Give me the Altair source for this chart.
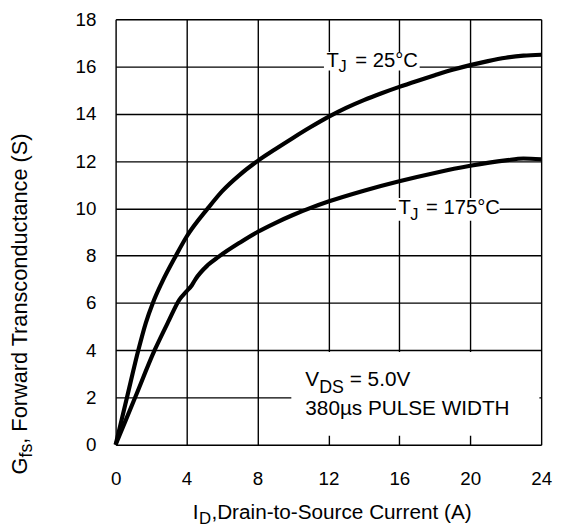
import altair as alt
import pandas as pd

# ---- data ----
id_25 = [0, 0.64, 1.28, 1.7, 2.1, 2.6, 3.4, 4.0, 5.2, 6.0, 7.0, 8.0, 9.0, 10.0, 11.0, 12.0, 13.0, 14.0,
         15.0, 16.0, 17.0, 18.0, 19.0, 20.0, 21.0, 22.0, 23.0, 24.0]
gfs_25 = [0, 2.0, 4.0, 5.15, 6.0, 6.85, 8.0, 8.8, 10.0, 10.72, 11.42, 12.0, 12.5, 12.98, 13.44, 13.87, 14.25, 14.58,
          14.87, 15.14, 15.39, 15.63, 15.86, 16.06, 16.23, 16.37, 16.46, 16.5]

id_175 = [0, 1.1, 2.2, 3.0, 3.6, 4.0, 4.3, 4.5, 5.2, 5.8, 7.0, 8.0, 9.0, 10.0, 11.0, 12.0, 14.0, 16.0,
          18.0, 20.0, 22.0, 23.0, 24.0]
gfs_175 = [0, 2.0, 4.0, 5.25, 6.14, 6.49, 6.75, 7.0, 7.6, 7.95, 8.55, 9.0, 9.38, 9.72, 10.02, 10.29, 10.75, 11.15,
           11.5, 11.8, 12.03, 12.11, 12.08]

x_ticks = [0, 4, 8, 12, 16, 20, 24]
y_ticks = [0, 2, 4, 6, 8, 10, 12, 14, 16, 18]

df = pd.DataFrame({
    "x": id_25 + id_175,
    "y": gfs_25 + gfs_175,
    "tj": ["25"] * len(id_25) + ["175"] * len(id_175),
})

FONT = "Liberation Sans"
W, H = 431, 431

xs = alt.Scale(domain=[0, 24], nice=False, zero=False)
ys = alt.Scale(domain=[0, 18], nice=False, zero=False)
xaxis = alt.Axis(values=x_ticks, grid=True, gridColor="black", gridWidth=1.4, gridOpacity=1,
                 ticks=False, tickSize=0, domain=False, labelFont=FONT, labelFontSize=19,
                 labelColor="black", labelPadding=25, title=None, labelFlush=False)
yaxis = alt.Axis(values=y_ticks, grid=True, gridColor="black", gridWidth=1.4, gridOpacity=1,
                 ticks=False, tickSize=0, domain=False, labelFont=FONT, labelFontSize=19,
                 labelColor="black", labelPadding=20, title=None, labelFlush=False)

one = pd.DataFrame({"a": [0]})

# white boxes behind the annotations
boxes = pd.DataFrame({
    "x": [11.75, 15.81, 9.91],
    "x2": [17.15, 21.66, 23.9],
    "y": [15.83, 9.48, 0.38],
    "y2": [16.62, 10.44, 3.92],
})
box_layer = alt.Chart(boxes).mark_rect(fill="white").encode(
    x=alt.X("x:Q", scale=xs, axis=xaxis), x2="x2:Q",
    y=alt.Y("y:Q", scale=ys, axis=yaxis), y2="y2:Q",
)

lines = alt.Chart(df).mark_line(color="black", strokeWidth=4.2, interpolate="monotone").encode(
    x=alt.X("x:Q", scale=xs, axis=xaxis),
    y=alt.Y("y:Q", scale=ys, axis=yaxis),
    detail="tj:N",
)


def dtxt(s, x, y, size, dx=0, dy=0):
    return alt.Chart(one).mark_text(text=s, dx=dx, dy=dy, fontSize=size, font=FONT, color="black",
                                    align="left", baseline="alphabetic").encode(
        x=alt.X(datum=x, scale=xs, axis=xaxis),
        y=alt.Y(datum=y, scale=ys, axis=yaxis),
    )


def ptxt(s, px, py, size, angle=0):
    return alt.Chart(one).mark_text(text=s, fontSize=size, font=FONT, color="black",
                                    align="left", baseline="alphabetic", angle=angle).encode(
        x=alt.value(px), y=alt.value(py),
    )


MS = 20.5  # main annotation size
SS = 16.5  # subscript size

annots = [
    dtxt("T", 11.9, 16.0, MS),
    dtxt("J", 11.9, 16.0, SS, dx=12, dy=6),
    dtxt("= 25°C", 11.9, 16.0, MS, dx=29),
    dtxt("T", 15.95, 9.76, MS),
    dtxt("J", 15.95, 9.76, SS, dx=12, dy=6),
    dtxt("= 175°C", 15.95, 9.76, MS, dx=28),
    dtxt("V", 10.7, 2.49, 21),
    dtxt("DS", 10.7, 2.49, 18, dx=14, dy=7.5),
    dtxt("= 5.0V", 10.7, 2.49, 21, dx=45),
    dtxt("380µs PULSE WIDTH", 10.7, 1.24, 21),
]

titles = [
    ptxt("I", 78, 506, 21),
    ptxt("D", 84.5, 511.5, 17),
    ptxt(",Drain-to-Source Current (A)", 97, 506, 21),
    ptxt("G", -90, 461, 22, angle=270),
    ptxt("fs", -84.5, 443.9, 18, angle=270),
    ptxt(", Forward Transconductance (S)", -90, 429.9, 22, angle=270),
]

chart = alt.layer(box_layer, lines, *annots, *titles).properties(
    width=W, height=H,
    autosize=alt.AutoSizeParams(type="none"),
    padding={"left": 109, "top": 8, "right": 12, "bottom": 90},
).configure_view(stroke="black", strokeWidth=3).configure(background="white")

chart.save("out.html", embed_options={"renderer": "svg", "actions": False})
